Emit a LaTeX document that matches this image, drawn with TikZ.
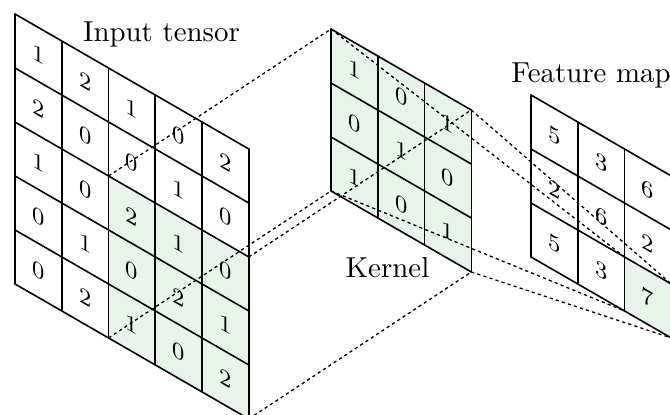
\documentclass[tikz,border=0pt]{standalone}
\usetikzlibrary{calc}
\definecolor{kfill}{RGB}{232,243,234}
\begin{document}
\begin{tikzpicture}[x=0.346pt,y=-0.346pt,
  gridline/.style={line width=0.55pt, line join=round, line cap=round},
  conn/.style={line width=0.45pt, dash pattern=on 1.1pt off 1.1pt},
  digit/.style={font=\footnotesize, inner sep=0pt, yslant=-0.5774},
  lbl/.style={font=\normalsize, inner sep=0pt, anchor=base},
  plane/.style={x={(16.18pt,-9.342pt)}, y={(0pt,-18.68pt)}}
]
\useasboundingbox (0,0) rectangle (670,415);

% Input tensor
\begin{scope}[shift={(15,14)}, plane]
  \fill[kfill] (2,2) -- (5,2) -- (5,5) -- (2,5) -- cycle;
  \foreach \i in {0,...,5} {
    \draw[gridline] (\i,0) -- (\i,5);
    \draw[gridline] (0,\i) -- (5,\i);
  }
  \foreach \row [count=\r from 0] in {{1,2,1,0,2},{2,0,0,1,0},{1,0,2,1,0},{0,1,0,2,1},{0,2,1,0,2}} {
    \foreach \v [count=\c from 0] in \row {
      \node[digit] (in\r\c) at (\c+0.5,\r+0.5) {\v};
    }
  }
  \coordinate (iTL) at (2,2);
  \coordinate (iTR) at (5,2);
  \coordinate (iBL) at (2,5);
  \coordinate (iBR) at (5,5);
\end{scope}

% Kernel
\begin{scope}[shift={(331,29)}, plane]
  \fill[kfill] (0,0) -- (3,0) -- (3,3) -- (0,3) -- cycle;
  \foreach \i in {0,...,3} {
    \draw[gridline] (\i,0) -- (\i,3);
    \draw[gridline] (0,\i) -- (3,\i);
  }
  \foreach \row [count=\r from 0] in {{1,0,1},{0,1,0},{1,0,1}} {
    \foreach \v [count=\c from 0] in \row {
      \node[digit] (k\r\c) at (\c+0.5,\r+0.5) {\v};
    }
  }
  \coordinate (kTL) at (0,0);
  \coordinate (kTR) at (3,0);
  \coordinate (kBL) at (0,3);
  \coordinate (kBR) at (3,3);
\end{scope}

% Feature map
\begin{scope}[shift={(531,95)}, plane]
  \fill[kfill] (2,2) -- (3,2) -- (3,3) -- (2,3) -- cycle;
  \foreach \i in {0,...,3} {
    \draw[gridline] (\i,0) -- (\i,3);
    \draw[gridline] (0,\i) -- (3,\i);
  }
  \foreach \row [count=\r from 0] in {{5,3,6},{2,6,2},{5,3,7}} {
    \foreach \v [count=\c from 0] in \row {
      \node[digit] (o\r\c) at (\c+0.5,\r+0.5) {\v};
    }
  }
  \coordinate (oTL) at (2,2);
  \coordinate (oTR) at (3,2);
  \coordinate (oBL) at (2,3);
  \coordinate (oBR) at (3,3);
\end{scope}

% connectors
\draw[conn] (iTL) -- (kTL);
\draw[conn] (iTR) -- (kTR);
\draw[conn] (iBL) -- (kBL);
\draw[conn] (iBR) -- (kBR);
\draw[conn] (kTL) -- (oTL);
\draw[conn] (kTR) -- (oTR);
\draw[conn] (kBL) -- (oBL);
\draw[conn] (kBR) -- (oBR);

% labels
\node[lbl] (lin) at (161.5,41.5) {Input tensor};
\node[lbl] (lk) at (387.5,278) {Kernel};
\node[lbl] (lf) at (591,83) {Feature map};
\end{tikzpicture}
\end{document}
